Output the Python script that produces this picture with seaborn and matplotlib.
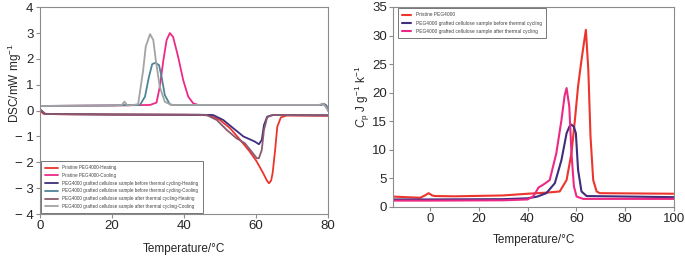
import numpy as np
import pandas as pd
import matplotlib
matplotlib.use("Agg")
import matplotlib.pyplot as plt
import seaborn as sns

sns.set_style("white")
plt.rcParams['font.family'] = ['Liberation Sans', 'DejaVu Sans']
plt.rcParams['mathtext.fontset'] = 'custom'
plt.rcParams['mathtext.rm'] = 'Liberation Sans'
plt.rcParams['mathtext.it'] = 'Liberation Sans:italic'

# ---------------- Left panel: DSC (mW/mg) ----------------
pris_heat_T = [0, 0.5, 1, 5, 20, 40, 45, 47.2, 50, 52.8, 55.6, 58.3, 60.2, 62, 63, 63.6, 64.2, 64.6, 65.3, 65.9, 66.9, 68.5, 80]
pris_heat_V = [0.0, -0.05, -0.12, -0.14, -0.15, -0.16, -0.17, -0.19, -0.36, -0.68, -1.13, -1.59, -1.97, -2.42, -2.7, -2.81, -2.7, -2.42, -1.52, -0.62, -0.26, -0.19, -0.2]

pris_cool_T = [0, 20, 30.6, 32.4, 33.3, 34.3, 35.2, 36.1, 37.0, 38.4, 39.8, 41.2, 42.6, 44, 78, 78.8, 79.5, 80]
pris_cool_V = [0.18, 0.2, 0.22, 0.31, 0.92, 1.95, 2.73, 3.0, 2.85, 2.08, 1.18, 0.54, 0.28, 0.22, 0.22, 0.26, 0.2, 0.0]

bef_heat_T = [0, 0.5, 1.5, 20, 45, 48.1, 50.9, 53.7, 56.5, 58.3, 59.7, 60.8, 61.6, 62.2, 63.1, 64.8, 80]
bef_heat_V = [0.05, 0.0, -0.13, -0.15, -0.16, -0.17, -0.36, -0.68, -1.0, -1.11, -1.2, -1.3, -1.13, -0.56, -0.23, -0.17, -0.18]

bef_cool_T = [0, 20, 27.8, 29.2, 30.3, 31.2, 32.1, 33.1, 33.8, 34.7, 36.1, 37, 78, 78.8, 79.5, 80]
bef_cool_V = [0.18, 0.2, 0.22, 0.54, 1.31, 1.8, 1.85, 1.76, 1.31, 0.6, 0.24, 0.22, 0.22, 0.26, 0.2, 0.0]

aft_heat_T = [0, 0.5, 1.5, 20, 44, 46.3, 49.1, 51.9, 54.6, 56.9, 58.8, 60.2, 60.8, 61.6, 62.2, 63.1, 64.4, 80]
aft_heat_V = [0.05, 0.0, -0.13, -0.15, -0.16, -0.17, -0.36, -0.75, -1.07, -1.26, -1.59, -1.84, -1.84, -1.52, -0.75, -0.26, -0.17, -0.18]

aft_cool_T = [0, 20, 22.8, 23.5, 24.3, 26, 27.3, 28.7, 29.4, 30.6, 31.5, 32.2, 33.3, 34.7, 36.6, 77.5, 78.5, 79.3, 80]
aft_cool_V = [0.18, 0.2, 0.22, 0.35, 0.2, 0.22, 0.25, 1.57, 2.47, 2.96, 2.73, 1.95, 0.92, 0.34, 0.22, 0.22, 0.27, 0.15, 0.0]

left_labels = ["Pristine PEG4000-Heating", "Pristine PEG4000-Cooling",
               "PEG4000 grafted cellulose sample before thermal cycling-Heating",
               "PEG4000 grafted cellulose sample before thermal cycling-Cooling",
               "PEG4000 grafted cellulose sample after thermal cycling-Heating",
               "PEG4000 grafted cellulose sample after thermal cycling-Cooling"]
left_colors = ["#ec352c", "#ec2a86", "#3f2d7d", "#4f8499", "#8a5a70", "#a3a3a3"]

# ---------------- Right panel: Cp ----------------
cp_pris_T = [-15, -4, -2, -0.5, 1, 2, 10, 30, 40, 48, 53.2, 56, 58, 59.4, 60.7, 62.1, 63.2, 63.9, 64.9, 65.8, 66.9, 68.3, 69.6, 100]
cp_pris_V = [1.8, 1.6, 2.0, 2.4, 2.0, 1.9, 1.85, 2.0, 2.3, 2.5, 2.7, 4.7, 9.4, 15.2, 21.1, 25.7, 29.0, 31.0, 24.0, 12.3, 4.7, 2.7, 2.4, 2.3]

cp_bef_T = [-15, 0, 30, 40, 44, 47.7, 51.2, 53.9, 56.0, 57.2, 58.0, 59.0, 59.8, 60.7, 62.1, 64.2, 100]
cp_bef_V = [1.3, 1.3, 1.35, 1.5, 1.8, 2.4, 4.15, 8.2, 12.9, 14.1, 14.4, 14.0, 12.9, 6.5, 2.7, 1.9, 1.7]

cp_aft_T = [-15, 0, 30, 40, 42.2, 43.6, 44.5, 46.3, 47.5, 49.1, 51.8, 53.9, 55.2, 56.0, 57.1, 58.0, 59.0, 60.1, 62.8, 100]
cp_aft_V = [1.1, 1.1, 1.15, 1.3, 1.8, 2.7, 3.4, 3.85, 4.2, 4.7, 9.4, 15.2, 19.5, 20.8, 17.6, 9.4, 3.6, 1.8, 1.4, 1.4]

right_labels = ["Pristine PEG4000", "PEG4000 grafted cellulose sample before thermal cycling",
                "PEG4000 grafted cellulose sample after thermal cycling"]
right_colors = ["#ec352c", "#3f2d7d", "#ec2a86"]

left_T = [pris_heat_T, pris_cool_T, bef_heat_T, bef_cool_T, aft_heat_T, aft_cool_T]
left_V = [pris_heat_V, pris_cool_V, bef_heat_V, bef_cool_V, aft_heat_V, aft_cool_V]
right_T = [cp_pris_T, cp_bef_T, cp_aft_T]
right_V = [cp_pris_V, cp_bef_V, cp_aft_V]

dfl = pd.concat([pd.DataFrame({"T": t, "V": v, "s": lab}) for t, v, lab in zip(left_T, left_V, left_labels)])
dfr = pd.concat([pd.DataFrame({"T": t, "V": v, "s": lab}) for t, v, lab in zip(right_T, right_V, right_labels)])

fig = plt.figure(figsize=(6.85, 2.57), dpi=100)
ax1 = fig.add_axes([0.058, 0.167, 0.421, 0.805])
ax2 = fig.add_axes([0.574, 0.195, 0.410, 0.778])

sns.lineplot(data=dfl, x="T", y="V", hue="s", hue_order=left_labels,
             palette=left_colors, ax=ax1, lw=1.3, sort=False, estimator=None)
sns.lineplot(data=dfr, x="T", y="V", hue="s", hue_order=right_labels,
             palette=right_colors, ax=ax2, lw=1.5, sort=False, estimator=None)
for ax in (ax1, ax2):
    for ln in ax.get_lines():
        ln.set_solid_joinstyle("round")

spc = "#8c8c8c"
for ax in (ax1, ax2):
    for sp in ax.spines.values():
        sp.set_color(spc)
        sp.set_linewidth(0.8)
    ax.tick_params(axis="both", which="both", direction="out", length=3,
                   width=0.8, color=spc, labelsize=9.5, pad=1.5, bottom=True, left=True)

ax1.set_xlim(0, 80)
ax1.set_ylim(-4, 4)
ax1.set_xticks([0, 20, 40, 60, 80])
ax1.set_yticks(range(-4, 5))
ax1.set_yticklabels(["\u2212 4", "\u2212 3", "\u2212 2", "\u2212 1", "0", "1", "2", "3", "4"])
ax1.set_xlabel("Temperature/\u00b0C", fontsize=8.5)
ax1.set_ylabel("DSC/mW mg$^{-1}$", fontsize=8.5)
ax1.xaxis.set_label_coords(0.5, -0.169)
ax1.xaxis.label.set_va("center")
ax1.yaxis.set_label_coords(-0.087, 0.633)
ax1.yaxis.label.set_va("center")

ax2.set_xlim(-15, 100)
ax2.set_ylim(0, 35)
ax2.set_xticks([0, 20, 40, 60, 80, 100])
ax2.set_yticks(range(0, 36, 5))
ax2.set_xlabel("Temperature/\u00b0C", fontsize=8.5)
ax2.set_ylabel("$C_\\mathrm{p}$ J g$^{-1}$ k$^{-1}$", fontsize=8.5)
ax2.xaxis.set_label_coords(0.5, -0.165)
ax2.xaxis.label.set_va("center")
ax2.yaxis.set_label_coords(-0.11, 0.55)
ax2.yaxis.label.set_va("center")

leg1 = ax1.legend(loc="lower left", bbox_to_anchor=(0.003, 0.005), fontsize=3.3,
                  frameon=True, fancybox=False, borderaxespad=0, handlelength=2.9,
                  labelspacing=0.6, borderpad=0.9, handletextpad=0.9)
leg1.get_frame().set_edgecolor("#555555")
leg1.get_frame().set_linewidth(0.7)
for t in leg1.get_texts():
    t.set_color("#444444")

leg2 = ax2.legend(loc="upper left", bbox_to_anchor=(0.018, 0.993), fontsize=3.5,
                  frameon=True, fancybox=False, borderaxespad=0, handlelength=1.7,
                  labelspacing=0.65, borderpad=0.85, handletextpad=1.0)
leg2.get_frame().set_edgecolor("#555555")
leg2.get_frame().set_linewidth(0.7)
for t in leg2.get_texts():
    t.set_color("#444444")

fig.savefig("out.png", dpi=100)
